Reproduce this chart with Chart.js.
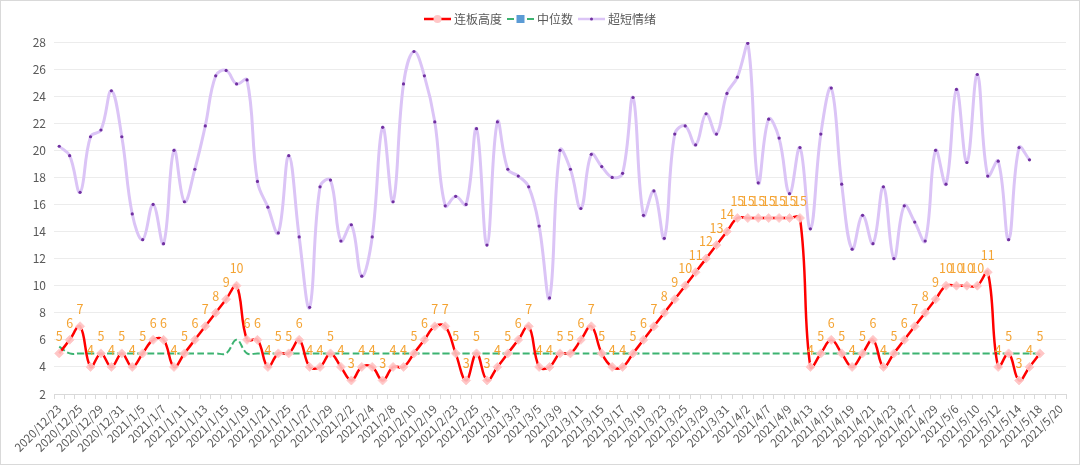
<!DOCTYPE html>
<html lang="zh">
<head>
<meta charset="UTF-8">
<title>连板高度</title>
<script src="https://cdn.jsdelivr.net/npm/chart.js"></script>
<style>
  html, body { margin: 0; padding: 0; background: #fff; }
  .frame { width: 1080px; height: 465px; box-sizing: border-box; border: 1px solid #d9d9d9; }
  canvas { display: block; }
</style>
</head>
<body>
<div class="frame"><canvas id="chart" width="1078" height="463"></canvas></div>
<script>
const dates = [
  '2020/12/23','2020/12/24','2020/12/25','2020/12/28','2020/12/29','2020/12/30','2020/12/31',
  '2021/1/4','2021/1/5','2021/1/6','2021/1/7','2021/1/8','2021/1/11','2021/1/12','2021/1/13','2021/1/14','2021/1/15',
  '2021/1/18','2021/1/19','2021/1/20','2021/1/21','2021/1/22','2021/1/25','2021/1/26','2021/1/27','2021/1/28','2021/1/29',
  '2021/2/1','2021/2/2','2021/2/3','2021/2/4','2021/2/5','2021/2/8','2021/2/9','2021/2/10','2021/2/18','2021/2/19',
  '2021/2/22','2021/2/23','2021/2/24','2021/2/25','2021/2/26',
  '2021/3/1','2021/3/2','2021/3/3','2021/3/4','2021/3/5','2021/3/8','2021/3/9','2021/3/10','2021/3/11','2021/3/12',
  '2021/3/15','2021/3/16','2021/3/17','2021/3/18','2021/3/19','2021/3/22','2021/3/23','2021/3/24','2021/3/25','2021/3/26',
  '2021/3/29','2021/3/30','2021/3/31',
  '2021/4/1','2021/4/2','2021/4/6','2021/4/7','2021/4/8','2021/4/9','2021/4/12','2021/4/13','2021/4/14','2021/4/15','2021/4/16',
  '2021/4/19','2021/4/20','2021/4/21','2021/4/22','2021/4/23','2021/4/26','2021/4/27','2021/4/28','2021/4/29','2021/4/30',
  '2021/5/6','2021/5/7','2021/5/10','2021/5/11','2021/5/12','2021/5/13','2021/5/14','2021/5/17','2021/5/18','2021/5/19','2021/5/20'
];

// 连板高度
const boardHeight = [
  5,6,7,4,5,4,5,4,5,6, 6,4,5,6,7,8,9,10,6,6, 4,5,5,6,4,4,5,4,3,4,
  4,3,4,4,5,6,7,7,5,3, 5,3,4,5,6,7,4,4,5,5, 6,7,5,4,4,5,6,7,8,9,
  10,11,12,13,14,15,15,15,15,15, 15,15,4,5,6,5,4,5,6,4, 5,6,7,8,9,10,10,10,10,11,
  4,5,3,4,5
];

// 中位数
const median = [
  5.5,5,5,5,5,5,5,5,5,5, 5,5,5,5,5,5,5,6,5,5, 5,5,5,5,5,5,5,5,5,5,
  5,5,5,5,5,5,5,5,5,5, 5,5,5,5,5,5,5,5,5,5, 5,5,5,5,5,5,5,5,5,5,
  5,5,5,5,5,5,5,5,5,5, 5,5,5,5,5,5,5,5,5,5, 5,5,5,5,5,5,5,5,5,5,
  5,5,5,5,5
];

// 超短情绪
const sentiment = [
  20.3,19.6,16.9,21.0,21.5,24.4,21.0,15.3,13.4,16.0,
  13.1,20.0,16.2,18.6,21.8,25.5,25.9,24.9,25.2,17.7,
  15.8,13.9,19.6,13.6,8.4,17.3,17.8,13.3,14.5,10.7,
  13.6,21.7,16.2,24.9,27.3,25.5,22.1,15.9,16.6,16.0,
  21.6,13.0,22.1,18.6,18.1,17.3,14.4,9.1,20.0,18.6,
  15.7,19.7,18.8,18.0,18.3,23.9,15.2,17.0,13.5,21.2,
  21.8,20.4,22.7,21.2,24.2,25.4,27.9,17.6,22.3,20.9,
  16.8,20.2,14.2,21.2,24.6,17.5,12.7,15.2,13.1,17.3,
  12.0,15.9,14.7,13.3,20.0,17.5,24.5,19.1,25.6,18.1,
  19.2,13.4,20.2,19.3
];

const yTicks = { min: 2, max: 28, step: 2 };

const FONT = '"Noto Sans CJK SC", "Microsoft YaHei", sans-serif';
const TEXT = '#595959';

// legend drawn as line + marker, like the spreadsheet legend
const legendMarkers = [
  { style: 'circle', r: 4, fill: '#ffc7c7' },
  { style: 'rect', r: 4, fill: '#5b9bd5' },
  { style: 'circle', r: 1.5, fill: '#7030a0' }
];

const lineLegend = {
  id: 'lineLegend',
  afterDraw(chart) {
    const ctx = chart.ctx;
    const symW = 27, gap = 3, itemGap = 5, y = 18;
    ctx.save();
    ctx.font = '12px ' + FONT;
    const items = chart.data.datasets.map((ds, i) => ({
      ds, m: legendMarkers[i], w: symW + gap + ctx.measureText(ds.label).width
    }));
    const total = items.reduce((s, it) => s + it.w, 0) + itemGap * (items.length - 1);
    let x = Math.round(chart.width / 2 - total / 2);
    items.forEach(({ ds, m, w }) => {
      ctx.strokeStyle = ds.borderColor;
      ctx.lineWidth = Math.min(ds.borderWidth, 2.5);
      ctx.setLineDash(ds.borderDash || []);
      ctx.beginPath();
      ctx.moveTo(x, y);
      ctx.lineTo(x + symW, y);
      ctx.stroke();
      ctx.setLineDash([]);
      ctx.fillStyle = m.fill;
      ctx.beginPath();
      if (m.style === 'rect') ctx.rect(x + symW / 2 - m.r, y - m.r, m.r * 2, m.r * 2);
      else ctx.arc(x + symW / 2, y, m.r, 0, Math.PI * 2);
      ctx.fill();
      ctx.fillStyle = TEXT;
      ctx.textAlign = 'left';
      ctx.textBaseline = 'middle';
      ctx.fillText(ds.label, x + symW + gap, y);
      x += w + itemGap;
    });
    ctx.restore();
  }
};

// value labels above the 连板高度 points
const valueLabels = {
  id: 'valueLabels',
  afterDatasetsDraw(chart) {
    const ctx = chart.ctx;
    const meta = chart.getDatasetMeta(0);
    const values = chart.data.datasets[0].data;
    ctx.save();
    ctx.font = '12.5px ' + FONT;
    ctx.fillStyle = '#f4a332';
    ctx.textAlign = 'center';
    ctx.textBaseline = 'middle';
    meta.data.forEach((pt, i) => {
      ctx.fillText(String(values[i]), pt.x, pt.y - 17);
    });
    ctx.restore();
  }
};

new Chart(document.getElementById('chart'), {
  type: 'line',
  data: {
    labels: dates,
    datasets: [
      {
        label: '连板高度',
        data: boardHeight,
        borderColor: '#ff0000',
        borderWidth: 2.5,
        tension: 0.4,
        pointStyle: 'rectRot',
        pointRadius: 4.5,
        pointBackgroundColor: 'rgba(255,192,192,0.9)',
        pointBorderColor: 'rgba(255,205,205,0.9)',
        pointBorderWidth: 1
      },
      {
        label: '中位数',
        data: median,
        borderColor: '#3cb371',
        borderWidth: 2,
        borderDash: [7, 3],
        tension: 0.4,
        pointRadius: 0
      },
      {
        label: '超短情绪',
        data: sentiment,
        borderColor: '#dbc4f6',
        borderWidth: 3,
        tension: 0.4,
        pointRadius: 1.6,
        pointBackgroundColor: '#7030a0',
        pointBorderWidth: 0
      }
    ]
  },
  options: {
    responsive: false,
    animation: false,
    devicePixelRatio: 1,
    layout: { padding: { top: 41, right: 13, bottom: 0, left: 0 } },
    plugins: {
      legend: { display: false },
      tooltip: { enabled: false }
    },
    scales: {
      x: {
        offset: true,
        grid: { drawOnChartArea: false, offset: true, tickLength: 5, color: '#d9d9d9' },
        border: { color: '#d9d9d9' },
        ticks: {
          autoSkip: false,
          minRotation: 45,
          maxRotation: 45,
          padding: 3,
          color: TEXT,
          font: { size: 11.5, family: FONT },
          callback: (v, i) => (i % 2 === 0 ? dates[i] : '')
        },
        afterFit: s => { s.height = 70; }
      },
      y: {
        min: yTicks.min,
        max: yTicks.max,
        grid: { color: '#ececec', drawTicks: false },
        border: { display: false },
        ticks: {
          stepSize: yTicks.step,
          padding: 8,
          color: TEXT,
          font: { size: 12, family: FONT }
        },
        afterFit: s => { s.width = 53; }
      }
    }
  },
  plugins: [lineLegend, valueLabels]
});
</script>
</body>
</html>
